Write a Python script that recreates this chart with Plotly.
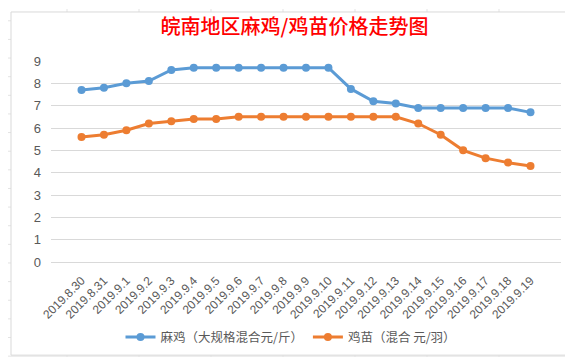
import plotly.graph_objects as go

dates = ["2019.8.30", "2019.8.31", "2019.9.1", "2019.9.2", "2019.9.3", "2019.9.4", "2019.9.5",
         "2019.9.6", "2019.9.7", "2019.9.8", "2019.9.9", "2019.9.10", "2019.9.11", "2019.9.12",
         "2019.9.13", "2019.9.14", "2019.9.15", "2019.9.16", "2019.9.17", "2019.9.18", "2019.9.19"]
ma_ji = [7.7, 7.8, 8.0, 8.1, 8.6, 8.7, 8.7, 8.7, 8.7, 8.7, 8.7, 8.7, 7.75, 7.2, 7.1, 6.9, 6.9,
         6.9, 6.9, 6.9, 6.7]
ji_miao = [5.6, 5.7, 5.9, 6.2, 6.3, 6.4, 6.4, 6.5, 6.5, 6.5, 6.5, 6.5, 6.5, 6.5, 6.5, 6.2, 5.7,
           5.0, 4.65, 4.45, 4.3]
name_ma = "麻鸡（大规格混合元/斤）"
name_miao = "鸡苗（混合 元/羽）"
title_text = "皖南地区麻鸡/鸡苗价格走势图"

W, H = 573, 357
ML, MR, MT, MB = 43, 20, 53, 99
PW, PH = W - ML - MR, H - MT - MB


def px(x):
    return (x - ML) / PW


def py(y):
    return (H - MB - y) / PH


FONT = "Noto Sans CJK SC, Noto Sans, sans-serif"
GREY = "#595959"

fig = go.Figure()
fig.add_trace(go.Scatter(x=dates, y=ma_ji, name=name_ma, mode="lines+markers",
                         line=dict(color="#5B9BD5", width=3), marker=dict(size=8, color="#5B9BD5")))
fig.add_trace(go.Scatter(x=dates, y=ji_miao, name=name_miao, mode="lines+markers",
                         line=dict(color="#ED7D31", width=3), marker=dict(size=8, color="#ED7D31")))

shapes = []
sheet = "#E3E3E3"
# spreadsheet grid visible outside the chart frame
for cx in [59, 131, 203, 275, 347, 419, 491, 563]:
    shapes.append(dict(type="line", xref="paper", yref="paper", x0=px(cx), x1=px(cx),
                       y0=py(0), y1=py(H), line=dict(color=sheet, width=1), layer="below"))
for ry in range(12, H, 19):
    shapes.append(dict(type="line", xref="paper", yref="paper", x0=px(0), x1=px(W),
                       y0=py(ry), y1=py(ry), line=dict(color=sheet, width=1), layer="below"))
# chart frame
shapes.append(dict(type="rect", xref="paper", yref="paper", x0=px(3), x1=px(569),
                   y0=py(353), y1=py(3), fillcolor="white",
                   line=dict(color="#D9D9D9", width=1), layer="below"))

fig.update_layout(
    width=W, height=H,
    margin=dict(l=ML, r=MR, t=MT, b=MB),
    paper_bgcolor="white", plot_bgcolor="rgba(0,0,0,0)",
    font=dict(family=FONT, color=GREY, size=12),
    title=dict(text=title_text, x=0.5, xanchor="center", y=1 - 19 / H, yanchor="middle",
               font=dict(family=FONT, size=20, color="#FF0000", weight=500)),
    shapes=shapes,
    showlegend=True,
    legend=dict(orientation="h", x=px(283), xanchor="center", y=py(335), yanchor="middle",
                font=dict(family=FONT, size=12.5, color=GREY), bgcolor="rgba(0,0,0,0)",
                itemwidth=30, tracegroupgap=0),
    xaxis=dict(type="category", tickangle=-45, showgrid=False, showline=True,
               linecolor="#D9D9D9", ticks="", ticklabelstandoff=6,
               tickfont=dict(size=12, color=GREY, family="Liberation Sans, Arial, sans-serif")),
    yaxis=dict(range=[0, 9], dtick=1, showgrid=True, gridcolor="#D9D9D9", zeroline=True,
               zerolinecolor="#D9D9D9", showline=False, ticks="", ticklabelstandoff=9,
               tickfont=dict(size=13, color=GREY, family="Liberation Sans, Arial, sans-serif")),
)

fig.write_html("out.html")
